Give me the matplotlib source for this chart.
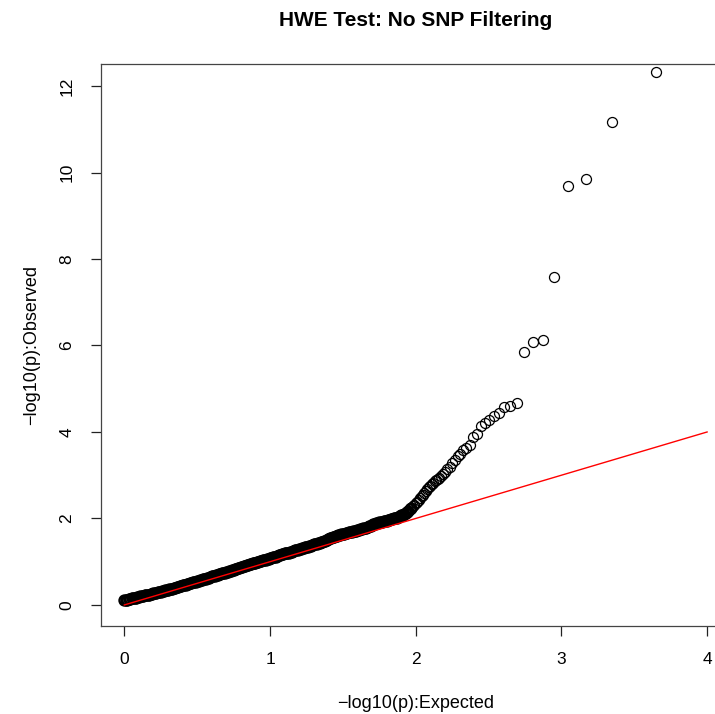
import matplotlib
matplotlib.use("Agg")
import matplotlib.pyplot as plt

plt.rcParams['font.family'] = ['Liberation Sans', 'DejaVu Sans']

title = "HWE Test: No SNP Filtering"
x_label = "\u2212log10(p):Expected"
y_label = "\u2212log10(p):Observed"

# Bulk of the QQ points (expected, observed)
bulk_expected = [
    0.00, 0.01, 0.02, 0.03, 0.04, 0.05, 0.06, 0.07, 0.08, 0.09,
    0.10, 0.11, 0.12, 0.13, 0.14, 0.15, 0.16, 0.17, 0.18, 0.19,
    0.20, 0.21, 0.22, 0.23, 0.24, 0.25, 0.26, 0.27, 0.28, 0.29,
    0.30, 0.31, 0.32, 0.33, 0.34, 0.35, 0.36, 0.37, 0.38, 0.39,
    0.40, 0.41, 0.42, 0.43, 0.44, 0.45, 0.46, 0.47, 0.48, 0.49,
    0.50, 0.51, 0.52, 0.53, 0.54, 0.55, 0.56, 0.57, 0.58, 0.59,
    0.60, 0.61, 0.62, 0.63, 0.64, 0.65, 0.66, 0.67, 0.68, 0.69,
    0.70, 0.71, 0.72, 0.73, 0.74, 0.75, 0.76, 0.77, 0.78, 0.79,
    0.80, 0.81, 0.82, 0.83, 0.84, 0.85, 0.86, 0.87, 0.88, 0.89,
    0.90, 0.91, 0.92, 0.93, 0.94, 0.95, 0.96, 0.97, 0.98, 0.99,
    1.00, 1.01, 1.02, 1.03, 1.04, 1.05, 1.06, 1.07, 1.08, 1.09,
    1.10, 1.11, 1.12, 1.13, 1.14, 1.15, 1.16, 1.17, 1.18, 1.19,
    1.20, 1.21, 1.22, 1.23, 1.24, 1.25, 1.26, 1.27, 1.28, 1.29,
    1.30, 1.31, 1.32, 1.33, 1.34, 1.35, 1.36, 1.37, 1.38, 1.39,
    1.40, 1.41, 1.42, 1.43, 1.44, 1.45, 1.46, 1.47, 1.48, 1.49,
    1.50, 1.51, 1.52, 1.53, 1.54, 1.55, 1.56, 1.57, 1.58, 1.59,
    1.60, 1.61, 1.62, 1.63, 1.64, 1.65, 1.66, 1.67, 1.68, 1.69,
    1.70, 1.71, 1.72, 1.73, 1.74, 1.75, 1.76, 1.77, 1.78, 1.79,
    1.80, 1.81, 1.82, 1.83, 1.84, 1.85, 1.86, 1.87, 1.88, 1.89,
    1.90, 1.91, 1.92, 1.93, 1.94, 1.95, 1.96, 1.97, 1.98, 1.99,
    2.00, 2.01, 2.02, 2.03, 2.04, 2.05, 2.06, 2.07, 2.08, 2.09,
    2.10, 2.11, 2.12, 2.13, 2.14, 2.15, 2.16]
bulk_observed = [
    0.11, 0.12, 0.12, 0.13, 0.14, 0.15, 0.16, 0.16, 0.17, 0.18,
    0.19, 0.20, 0.21, 0.21, 0.22, 0.23, 0.24, 0.24, 0.25, 0.26,
    0.27, 0.27, 0.28, 0.29, 0.30, 0.31, 0.32, 0.33, 0.34, 0.34,
    0.35, 0.36, 0.37, 0.38, 0.39, 0.40, 0.41, 0.42, 0.43, 0.44,
    0.45, 0.46, 0.47, 0.48, 0.49, 0.50, 0.51, 0.52, 0.53, 0.54,
    0.55, 0.56, 0.57, 0.58, 0.59, 0.60, 0.61, 0.62, 0.63, 0.65,
    0.66, 0.67, 0.68, 0.69, 0.70, 0.71, 0.72, 0.73, 0.74, 0.75,
    0.76, 0.77, 0.78, 0.79, 0.80, 0.81, 0.82, 0.84, 0.85, 0.86,
    0.87, 0.88, 0.89, 0.91, 0.92, 0.93, 0.94, 0.95, 0.96, 0.97,
    0.98, 0.99, 1.00, 1.01, 1.02, 1.03, 1.04, 1.05, 1.06, 1.07,
    1.08, 1.09, 1.10, 1.11, 1.12, 1.14, 1.15, 1.16, 1.17, 1.18,
    1.19, 1.20, 1.21, 1.21, 1.22, 1.23, 1.24, 1.26, 1.27, 1.28,
    1.29, 1.30, 1.31, 1.32, 1.33, 1.34, 1.35, 1.36, 1.37, 1.38,
    1.40, 1.41, 1.42, 1.43, 1.44, 1.45, 1.46, 1.48, 1.49, 1.50,
    1.52, 1.54, 1.55, 1.57, 1.58, 1.59, 1.60, 1.61, 1.62, 1.63,
    1.64, 1.65, 1.66, 1.67, 1.68, 1.68, 1.69, 1.70, 1.71, 1.72,
    1.73, 1.74, 1.75, 1.76, 1.77, 1.78, 1.79, 1.80, 1.82, 1.83,
    1.85, 1.87, 1.88, 1.89, 1.90, 1.91, 1.92, 1.92, 1.93, 1.94,
    1.95, 1.96, 1.97, 1.98, 1.99, 2.00, 2.01, 2.02, 2.03, 2.05,
    2.07, 2.09, 2.11, 2.13, 2.16, 2.18, 2.21, 2.24, 2.28, 2.31,
    2.35, 2.39, 2.43, 2.47, 2.51, 2.55, 2.60, 2.64, 2.68, 2.72,
    2.76, 2.80, 2.83, 2.86, 2.89, 2.92, 2.94]

# Individually visible points in the upper tail
tail_expected = [2.172, 2.187, 2.202, 2.218, 2.234, 2.251, 2.269, 2.287,
                 2.307, 2.327, 2.348, 2.370, 2.394, 2.419, 2.445, 2.473,
                 2.503, 2.535, 2.570, 2.608, 2.649, 2.695, 2.746, 2.804,
                 2.871, 2.950, 3.047, 3.172, 3.348, 3.649]
tail_observed = [2.98, 3.03, 3.08, 3.14, 3.20, 3.28, 3.36, 3.45,
                 3.50, 3.58, 3.64, 3.71, 3.88, 3.96, 4.14, 4.20,
                 4.27, 4.38, 4.44, 4.57, 4.59, 4.68, 5.84, 6.07,
                 6.13, 7.58, 9.68, 9.85, 11.17, 12.32]

ref_line = [0, 4]

fig = plt.figure(figsize=(7.15, 7.14), dpi=100)
W, H = 715, 714
ax = fig.add_axes([101 / W, (H - 625.7) / H, 629.4 / W, (625.7 - 64) / H])

# the dense band is thousands of overplotted circles in the original,
# so the bulk below ~2 gets a heavier outline to look as solid
n_dense = 198
ax.plot(bulk_expected[:n_dense], bulk_observed[:n_dense], "o", markersize=7.2,
        markerfacecolor="none", markeredgecolor="black",
        markeredgewidth=1.7, zorder=2)
ax.plot(bulk_expected[n_dense:] + tail_expected,
        bulk_observed[n_dense:] + tail_observed, "o", markersize=7.2,
        markerfacecolor="none", markeredgecolor="black",
        markeredgewidth=0.9, zorder=2)
ax.plot(ref_line, ref_line, color="red", linewidth=1.0, zorder=3)

ax.set_xlim(-0.16, 4.16)
ax.set_ylim(-0.48, 12.51)
ax.set_xticks([0, 1, 2, 3, 4])
ax.set_yticks([0, 2, 4, 6, 8, 10, 12])

for s in ax.spines.values():
    s.set_color("#444444")
    s.set_linewidth(0.9)

ax.tick_params(direction="out", length=7, width=0.9, color="#222222",
               labelsize=12.5, pad=12)
for lab in ax.get_yticklabels():
    lab.set_rotation(90)
    lab.set_va("center")

ax.set_xlabel(x_label, fontsize=13, labelpad=20)
ax.set_ylabel(y_label, fontsize=13, labelpad=14)
ax.set_title(title, fontsize=15, fontweight="bold", pad=27)

fig.savefig("out.png", dpi=100)
